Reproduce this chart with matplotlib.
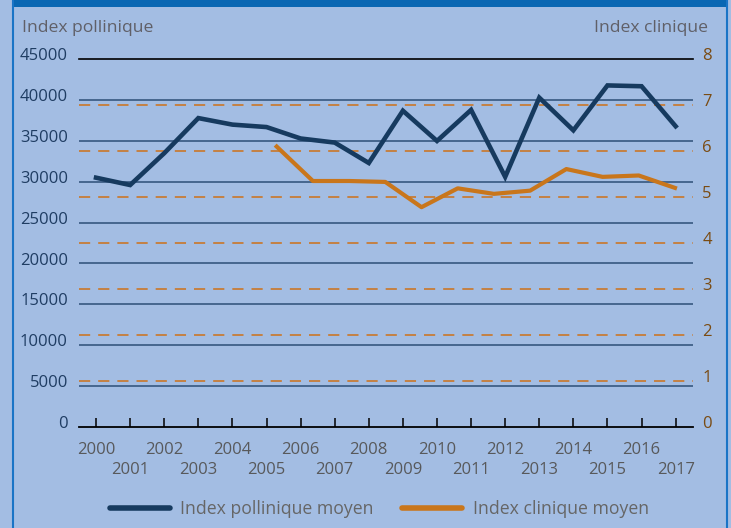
import matplotlib
matplotlib.use("Agg")
import matplotlib.pyplot as plt
import matplotlib.transforms as mtransforms
from matplotlib.lines import Line2D
from matplotlib.patches import Rectangle

plt.rcParams['font.family'] = ['Open Sans', 'DejaVu Sans']

# data
years = list(range(2000, 2018))
pollen = [30500, 29600, 33500, 37800, 37000, 36700, 35300, 34800, 32300,
          38700, 35000, 38800, 30600, 40300, 36300, 41800, 41700, 36800]
clin_years = list(range(2006, 2018))
clinical = [6.1, 5.35, 5.35, 5.33, 4.78, 5.19, 5.07, 5.14, 5.61, 5.44, 5.47, 5.2]

pollen_ticks = list(range(0, 45001, 5000))
clin_ticks = list(range(0, 9))

bg = '#a3bde3'
navy = '#163a5f'
orange = '#c9761b'
grid_c = '#3f5f88'

W, H = 731, 528
fig = plt.figure(figsize=(W / 100, H / 100), dpi=100, facecolor=bg)

# frame: dark band on top, thin blue sides
fig.add_artist(Rectangle((12.5 / W, 1 - 6.5 / H), (726.7 - 12.5) / W, 6.5 / H,
                         transform=fig.transFigure, color='#0a67b3', lw=0))
for xp in (12.5, 726.7):
    fig.add_artist(Line2D([xp / W, xp / W], [0, 1], transform=fig.transFigure,
                          color='#1a74c6', lw=1.5))

ax = fig.add_axes([79 / W, 1 - 426.7 / H, (692.7 - 79) / W, (426.7 - 59.3) / H])
ax.set_facecolor(bg)
ax.set_xlim(1999.5, 2017.5)
ax.set_ylim(0, 45000)

ax2 = ax.twinx()
ax2.set_ylim(0, 8)

# solid gridlines for left axis, dashed for right axis
ax.hlines(pollen_ticks[1:-1], 0, 1, transform=ax.get_yaxis_transform(),
          color=grid_c, lw=1.3, zorder=1)
ax.hlines(clin_ticks[1:-1], 0, 1, transform=ax2.get_yaxis_transform(),
          color='#cc7420', lw=1.15, linestyles=(0, (7, 5)), zorder=1)

ax.plot(years, pollen, color=navy, lw=3.3, solid_joinstyle='miter', zorder=3)

ax3 = ax2.twiny()
ax3.set_xlim(2000.54, 2017.49)
ax3.plot(clin_years, clinical, color=orange, lw=3.0, zorder=3)
ax3.set_xticks([])
for a in (ax2, ax3):
    for s in a.spines.values():
        s.set_visible(False)

for s in ('left', 'right'):
    ax.spines[s].set_visible(False)
ax.spines['top'].set_color('black')
ax.spines['top'].set_linewidth(1.2)
ax.spines['bottom'].set_color('black')
ax.spines['bottom'].set_linewidth(1.3)

# y ticks
ax.set_yticks(pollen_ticks, labels=[str(v) for v in pollen_ticks])
ax.tick_params(axis='y', length=0, pad=8, labelsize=12, labelcolor='#1f3d63')
ax2.set_yticks(clin_ticks, labels=[str(v) for v in clin_ticks])
ax2.tick_params(axis='y', length=0, pad=7, labelsize=12, labelcolor='#7a4b12')
up = mtransforms.ScaledTranslation(0, 3.5 / 72, fig.dpi_scale_trans)
for lbl in ax.get_yticklabels() + ax2.get_yticklabels():
    lbl.set_transform(lbl.get_transform() + up)

# x ticks on two rows
even = [y for y in years if y % 2 == 0]
odd = [y for y in years if y % 2 == 1]
ax.set_xticks(even, labels=[str(y) for y in even])
ax.set_xticks(odd, labels=[str(y) for y in odd], minor=True)
ax.tick_params(axis='x', which='both', direction='in', length=6.5, width=1.1,
               color='black', labelsize=12, labelcolor='#58595b')
ax.tick_params(axis='x', which='major', pad=11)
ax.tick_params(axis='x', which='minor', pad=25.5)

fig.text(21.7 / W, 1 - 31.7 / H, 'Index pollinique', ha='left', va='baseline',
         fontsize=12.6, color='#606068')
fig.text(707.7 / W, 1 - 31.7 / H, 'Index clinique', ha='right', va='baseline',
         fontsize=12.6, color='#606068')

handles = [Line2D([], [], color=navy, lw=4, solid_capstyle='round'),
           Line2D([], [], color=orange, lw=4, solid_capstyle='round')]
leg = fig.legend(handles, ['Index pollinique moyen', 'Index clinique moyen'],
                 loc='center', bbox_to_anchor=(379.4 / W, 1 - 509 / H), ncol=2,
                 frameon=False, fontsize=12.7, handlelength=3.4, handletextpad=0.6,
                 columnspacing=1.6, borderpad=0)
for t in leg.get_texts():
    t.set_color('#666666')

fig.savefig('out.png', dpi=100, facecolor=bg)
